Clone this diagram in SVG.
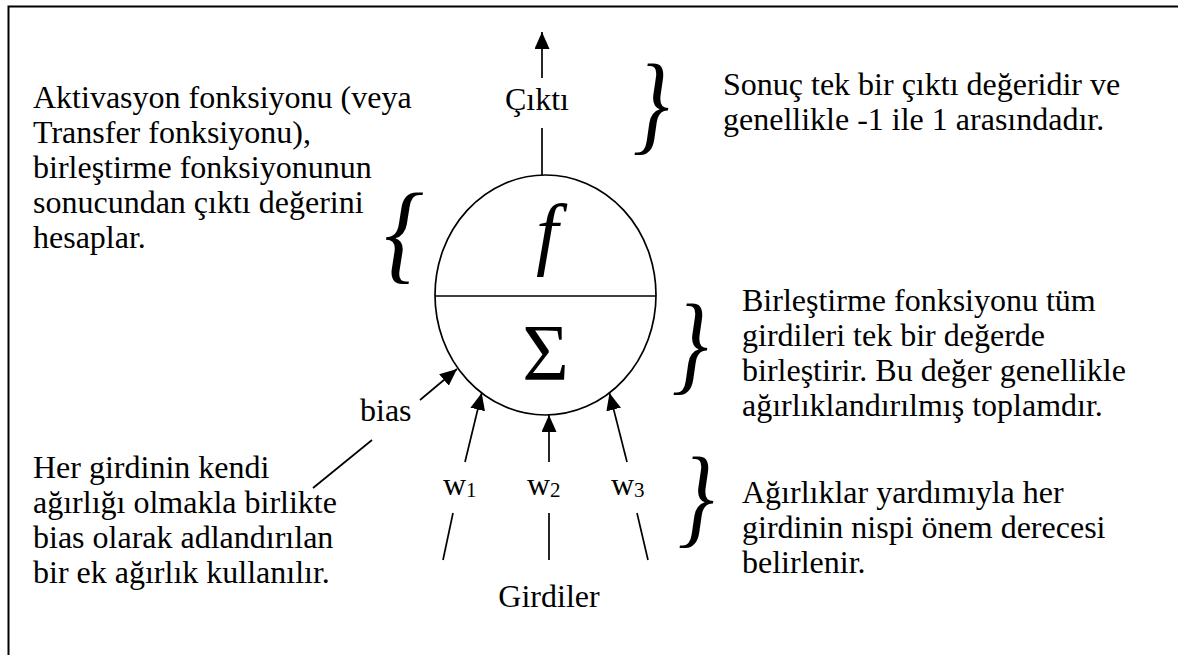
<svg xmlns="http://www.w3.org/2000/svg" width="1178" height="655" viewBox="0 0 1178 655">
<style>
  text { font-family: "Liberation Serif", "Times New Roman", Times, serif; fill: #000; }
  .t { font-size: 32px; }
  .sub { font-size: 21px; }
  .brace { font-size: 110px; font-style: italic; text-anchor: middle; }
  .ln { stroke: #000; stroke-width: 1.7; fill: none; }
</style>
<defs>
  <marker id="ah" viewBox="0 0 17 15" refX="17" refY="7.5" markerWidth="17" markerHeight="15" markerUnits="userSpaceOnUse" orient="auto">
    <path d="M0,0 L17,7.5 L0,15 Z" fill="#000"/>
  </marker>
</defs>
<rect width="1178" height="655" fill="#fff"/>
<path d="M8.5,655 V6.5 H1178" fill="none" stroke="#000" stroke-width="2"/>

<g id="neuron">
  <ellipse cx="545.5" cy="295" rx="110.5" ry="120" class="ln"/>
  <line x1="435" y1="296" x2="656" y2="296" class="ln"/>
  <text x="547" y="260" font-size="80" font-style="italic" text-anchor="middle">f</text>
  <text x="545.5" y="380" font-size="80" text-anchor="middle">Σ</text>
</g>

<g id="connectors">
  <line x1="542" y1="175" x2="542" y2="128" class="ln"/>
  <line x1="542" y1="78" x2="542" y2="32" class="ln" marker-end="url(#ah)"/>
  <line x1="420" y1="400" x2="457" y2="369" class="ln" marker-end="url(#ah)"/>
  <line x1="372" y1="440" x2="313" y2="488" class="ln"/>
  <line x1="465" y1="462" x2="481.7" y2="393" class="ln" marker-end="url(#ah)"/>
  <line x1="453" y1="513" x2="443" y2="560" class="ln"/>
  <line x1="549" y1="462" x2="549" y2="415" class="ln" marker-end="url(#ah)"/>
  <line x1="549" y1="513" x2="549" y2="560" class="ln"/>
  <line x1="627" y1="462" x2="609.5" y2="393" class="ln" marker-end="url(#ah)"/>
  <line x1="637" y1="513" x2="648" y2="560" class="ln"/>
</g>

<g id="output-label">
  <text class="t" x="537" y="110" text-anchor="middle">Çıktı</text>
</g>
<g id="bias-label">
  <text class="t" x="360" y="421">bias</text>
</g>
<g id="weights">
  <text class="t" x="443" y="495">w<tspan class="sub" dy="2">1</tspan></text>
  <text class="t" x="527" y="495">w<tspan class="sub" dy="2">2</tspan></text>
  <text class="t" x="611" y="495">w<tspan class="sub" dy="2">3</tspan></text>
</g>
<g id="inputs-label">
  <text class="t" x="549" y="607" text-anchor="middle">Girdiler</text>
</g>

<g id="note-output">
  <text class="brace" transform="translate(651,140) scale(0.82,1)">}</text>
  <text class="t" x="723" y="95">Sonuç tek bir çıktı değeridir ve</text>
  <text class="t" x="723" y="130">genellikle -1 ile 1 arasındadır.</text>
</g>
<g id="note-activation">
  <text class="brace" transform="translate(404,269) scale(0.9,1)">{</text>
  <text class="t" x="33" y="108">Aktivasyon fonksiyonu (veya</text>
  <text class="t" x="33" y="143">Transfer fonksiyonu),</text>
  <text class="t" x="33" y="178">birleştirme fonksiyonunun</text>
  <text class="t" x="33" y="213">sonucundan çıktı değerini</text>
  <text class="t" x="33" y="248">hesaplar.</text>
</g>
<g id="note-sum">
  <text class="brace" transform="translate(690,380) scale(0.82,1)">}</text>
  <text class="t" x="742" y="311">Birleştirme fonksiyonu tüm</text>
  <text class="t" x="742" y="346">girdileri tek bir değerde</text>
  <text class="t" x="742" y="381">birleştirir. Bu değer genellikle</text>
  <text class="t" x="742" y="416">ağırlıklandırılmış toplamdır.</text>
</g>
<g id="note-weights">
  <text class="brace" transform="translate(696,533) scale(0.82,1)">}</text>
  <text class="t" x="742" y="503">Ağırlıklar yardımıyla her</text>
  <text class="t" x="742" y="538">girdinin nispi önem derecesi</text>
  <text class="t" x="742" y="573">belirlenir.</text>
</g>
<g id="note-bias">
  <text class="t" x="33" y="478">Her girdinin kendi</text>
  <text class="t" x="33" y="513">ağırlığı olmakla birlikte</text>
  <text class="t" x="33" y="548">bias olarak adlandırılan</text>
  <text class="t" x="33" y="583">bir ek ağırlık kullanılır.</text>
</g>
</svg>
